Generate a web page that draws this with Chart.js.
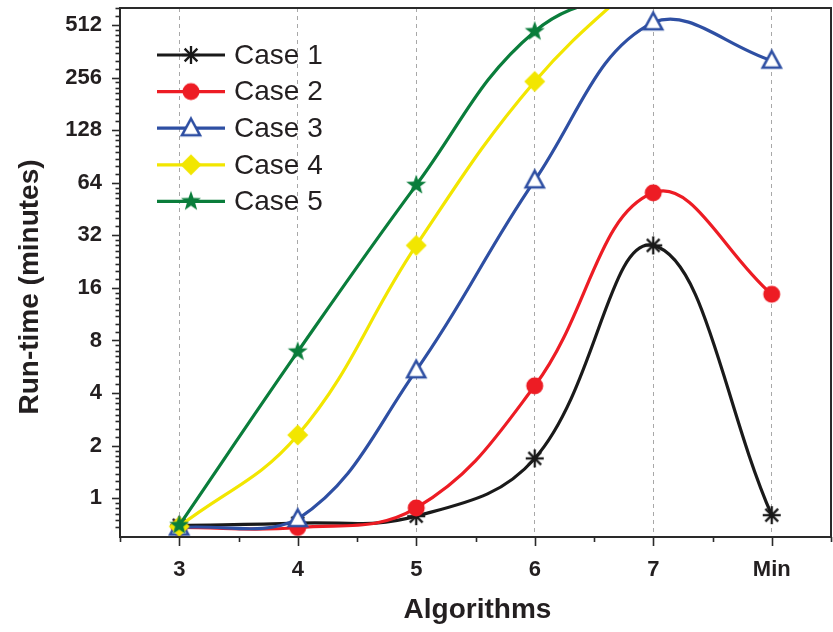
<!DOCTYPE html>
<html><head><meta charset="utf-8">
<style>html,body{margin:0;padding:0;background:#fff;overflow:hidden}canvas{display:block}</style>
<script src="https://cdn.jsdelivr.net/npm/chart.js@4/dist/chart.umd.min.js"></script>
</head><body><canvas id="c" width="833" height="632" style="width:833px;height:632px"></canvas>
<script>
// ---- data ----
const categories = ['3', '4', '5', '6', '7', 'Min'];
const seriesNames = ['Case 1', 'Case 2', 'Case 3', 'Case 4', 'Case 5'];
const case1 = [0.70, 0.72, 0.79, 1.69, 28, 0.80];
const case2 = [0.68, 0.68, 0.88, 4.4, 56, 14.7];
const case3 = [0.68, 0.76, 5.4, 66, 530, 320];
const case4 = [0.69, 2.3, 28, 243, 1100, null];
const case5 = [0.70, 6.9, 62, 470, 870, null];
const yTickValues = [1, 2, 4, 8, 16, 32, 64, 128, 256, 512];
const xTitle = 'Algorithms';
const yTitle = 'Run-time (minutes)';

// ---- styles ----
const colors = ['#1a1a1a', '#ed1c24', '#2e4fa3', '#f2e600', '#0a7d3b'];
const markers = ['asterisk', 'circle', 'triangle', 'diamond', 'star'];
const axisColor = '#2a2a2a';

function makeMarker(type, color) {
  const s = 26, c = document.createElement('canvas');
  c.width = s; c.height = s;
  const g = c.getContext('2d');
  g.translate(s / 2, s / 2);
  g.strokeStyle = color; g.fillStyle = color; g.lineJoin = 'miter';
  if (type === 'asterisk') {
    g.lineWidth = 2.3; g.lineCap = 'butt';
    const r = 9;
    for (let i = 0; i < 4; i++) {
      const a = i * Math.PI / 4;
      g.beginPath(); g.moveTo(-r * Math.cos(a), -r * Math.sin(a)); g.lineTo(r * Math.cos(a), r * Math.sin(a)); g.stroke();
    }
  } else if (type === 'circle') {
    g.beginPath(); g.arc(0, 0, 8.5, 0, Math.PI * 2); g.fill();
  } else if (type === 'triangle') {
    g.lineWidth = 2.6;
    g.beginPath(); g.moveTo(0, -9.5); g.lineTo(9, 7); g.lineTo(-9, 7); g.closePath();
    g.fillStyle = '#fff'; g.fill(); g.stroke();
  } else if (type === 'diamond') {
    g.beginPath(); g.moveTo(0, -10.5); g.lineTo(10.5, 0); g.lineTo(0, 10.5); g.lineTo(-10.5, 0); g.closePath(); g.fill();
  } else if (type === 'star') {
    const R = 10.5, r = 4.3;
    g.beginPath();
    for (let i = 0; i < 10; i++) {
      const rad = i % 2 ? r : R;
      const a = -Math.PI / 2 + i * Math.PI / 5;
      const x = rad * Math.cos(a), y = rad * Math.sin(a);
      i ? g.lineTo(x, y) : g.moveTo(x, y);
    }
    g.closePath(); g.fill();
  }
  return c;
}
const markerImgs = markers.map((m, i) => makeMarker(m, colors[i]));

const allSeries = [case1, case2, case3, case4, case5];
const datasets = allSeries.map((d, i) => ({
  label: seriesNames[i],
  data: d,
  borderColor: colors[i],
  backgroundColor: colors[i],
  borderWidth: 3.2,
  tension: 0.4,
  pointStyle: markerImgs[i],
  pointRadius: 10,
  spanGaps: false,
  order: 4 - i,
  clip: { left: 20, right: 20, top: 0, bottom: 0 }
}));

const Y_MIN = 0.64, Y_MAX = 640;

function zeroPad(s) { s.paddingTop = 0; s.paddingBottom = 0; s.paddingLeft = 0; s.paddingRight = 0; }

const decor = {
  id: 'decor',
  afterDatasetsDraw(chart) {
    const ctx = chart.ctx, a = chart.chartArea;
    const ys = chart.scales.y, xs = chart.scales.x;
    ctx.save();
    // frame
    ctx.strokeStyle = axisColor; ctx.lineWidth = 2;
    ctx.strokeRect(a.left, a.top, a.right - a.left, a.bottom - a.top);
    // y ticks (log2 major + minor)
    ctx.lineWidth = 1.6;
    for (let v = 0.5; v <= 512; v *= 2) {
      for (let k = 0; k < 8; k++) {
        const val = v * (1 + k / 8);
        if (val < Y_MIN || val > Y_MAX) continue;
        const y = Math.round(ys.getPixelForValue(val)) + 0.5;
        const len = (k === 0 && v >= 1) ? 8 : 4.5;
        ctx.beginPath(); ctx.moveTo(a.left, y); ctx.lineTo(a.left - len, y); ctx.stroke();
      }
    }
    // x ticks
    const step = xs.getPixelForValue(1) - xs.getPixelForValue(0);
    for (let i = 0; i < categories.length; i++) {
      const x = Math.round(xs.getPixelForValue(i)) + 0.5;
      ctx.beginPath(); ctx.moveTo(x, a.bottom); ctx.lineTo(x, a.bottom + 9); ctx.stroke();
      const xm = Math.round(xs.getPixelForValue(i) - step / 2) + 0.5;
      ctx.beginPath(); ctx.moveTo(xm, a.bottom); ctx.lineTo(xm, a.bottom + 5); ctx.stroke();
    }
    const xe = Math.round(xs.getPixelForValue(categories.length - 1) + step / 2) + 0.5;
    ctx.beginPath(); ctx.moveTo(xe, a.bottom); ctx.lineTo(xe, a.bottom + 5); ctx.stroke();

    // axis titles
    ctx.fillStyle = '#231f20';
    ctx.font = 'bold 28px "Liberation Sans", Arial, sans-serif';
    ctx.textAlign = 'center'; ctx.textBaseline = 'middle';
    ctx.fillText(xTitle, (a.left + a.right) / 2 + 2, 610);
    ctx.save();
    ctx.translate(30, 287); ctx.rotate(-Math.PI / 2);
    ctx.fillText(yTitle, 0, 0);
    ctx.restore();

    // legend
    ctx.font = '28px "Liberation Sans", Arial, sans-serif';
    ctx.textAlign = 'left';
    for (let i = 0; i < seriesNames.length; i++) {
      const y = 55 + i * 36.6;
      ctx.strokeStyle = colors[i]; ctx.lineWidth = 3.2;
      ctx.beginPath(); ctx.moveTo(157, y); ctx.lineTo(225, y); ctx.stroke();
      const img = markerImgs[i];
      ctx.drawImage(img, 191 - img.width / 2, y - img.height / 2);
      ctx.fillStyle = '#231f20';
      ctx.fillText(seriesNames[i], 234, y + 1);
    }
    ctx.restore();
  }
};

new Chart(document.getElementById('c'), {
  type: 'line',
  data: { labels: categories, datasets },
  options: {
    responsive: false,
    maintainAspectRatio: false,
    devicePixelRatio: 1,
    animation: false,
    events: [],
    layout: { autoPadding: false, padding: { left: 0, top: 8, right: 2, bottom: 0 } },
    plugins: { legend: { display: false }, tooltip: { enabled: false } },
    scales: {
      x: {
        type: 'category',
        offset: true,
        grid: { display: true, offset: false, drawTicks: false, color: '#a8a8a8', lineWidth: 1 },
        border: { display: false, dash: [4, 4] },
        ticks: { padding: 20, color: '#231f20', font: { family: '"Liberation Sans", Arial, sans-serif', size: 22, weight: 'bold' } },
        afterFit(s) { s.height = 95; zeroPad(s); }
      },
      y: {
        type: 'logarithmic',
        min: Y_MIN, max: Y_MAX,
        grid: { display: false, drawTicks: false },
        border: { display: false },
        afterBuildTicks(s) { s.ticks = yTickValues.map(v => ({ value: v })); },
        ticks: {
          padding: 18, color: '#231f20', autoSkip: false,
          font: { family: '"Liberation Sans", Arial, sans-serif', size: 22, weight: 'bold' },
          callback: (v) => String(v)
        },
        afterFit(s) { s.width = 120; zeroPad(s); }
      }
    }
  },
  plugins: [decor]
});
</script>
</body></html>
